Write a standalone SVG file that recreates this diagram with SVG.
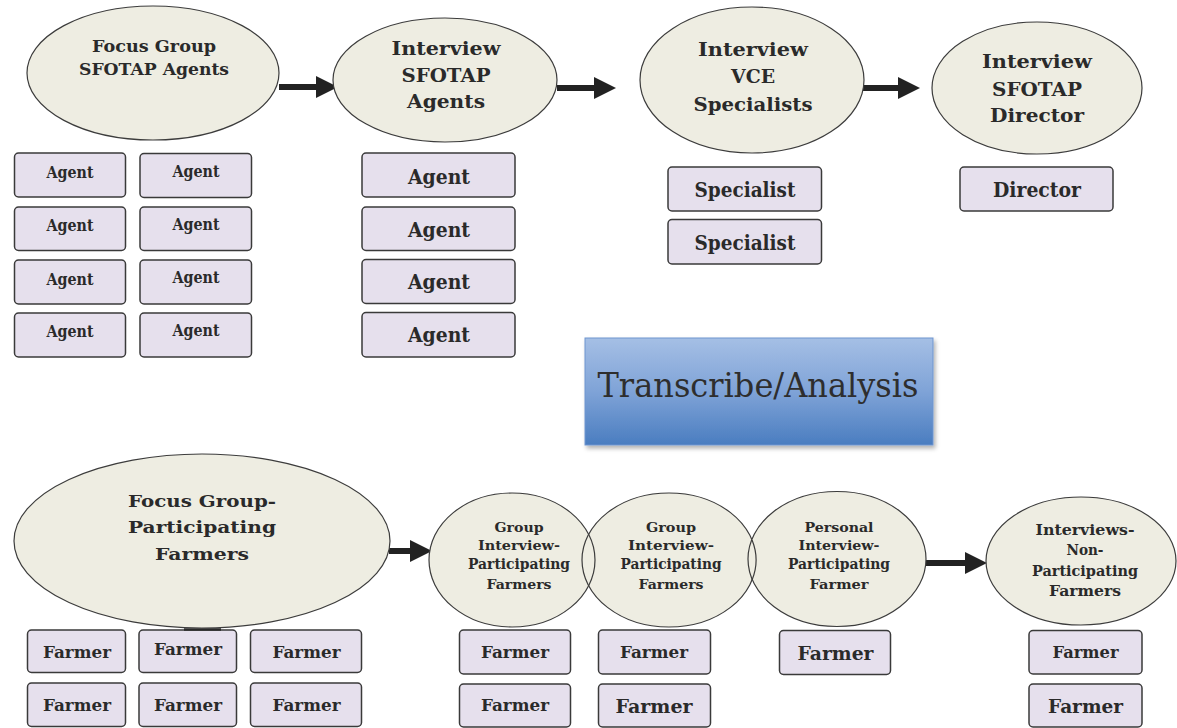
<svg xmlns="http://www.w3.org/2000/svg" width="1177" height="728" viewBox="0 0 1177 728">
  <style>
    .oval { fill: #eeede2; stroke: #3c3c3c; stroke-width: 1.2; }
    .ring { fill: none; stroke: #3c3c3c; stroke-width: 1.2; }
    .box { fill: #e6e0ed; stroke: #3a3a3a; stroke-width: 1.5; }
    .lbl { font-family: "DejaVu Serif", "Liberation Serif", serif; font-weight: bold; fill: #2a2a2a; text-anchor: middle; }
    .conn { stroke: #222; stroke-width: 6; fill: none; marker-end: url(#head); }
    .title { font-family: "DejaVu Serif", "Liberation Serif", serif; font-weight: normal; fill: #2e2e2e; text-anchor: middle; }
  </style>
  <defs>
    <marker id="head" markerUnits="userSpaceOnUse" markerWidth="22" markerHeight="22" refX="0" refY="11" orient="auto">
      <path d="M0,0 L22,11 L0,22 z" fill="#222"/>
    </marker>
    <linearGradient id="blue" x1="0" y1="0" x2="0" y2="1">
      <stop offset="0" stop-color="#a5bfe5"/>
      <stop offset="0.5" stop-color="#7fa3d7"/>
      <stop offset="1" stop-color="#4a7dc0"/>
    </linearGradient>
    <filter id="shadow" x="-5%" y="-10%" width="115%" height="130%">
      <feDropShadow dx="2" dy="3" stdDeviation="2" flood-color="#000" flood-opacity="0.3"/>
    </filter>
  </defs>

  <rect width="1177" height="728" fill="#ffffff"/>

  <!-- connectors -->
  <g id="connectors">
    <line class="conn" x1="279" y1="87" x2="316" y2="87"/>
    <line class="conn" x1="557" y1="88" x2="594" y2="88"/>
    <line class="conn" x1="863" y1="88" x2="898" y2="88"/>
    <line class="conn" x1="389" y1="551" x2="410" y2="551"/>
    <line class="conn" x1="926" y1="563" x2="965" y2="563"/>
  </g>

  <!-- top row: staff interviews -->
  <g id="focus-group-agents">
    <ellipse class="oval" cx="153" cy="73" rx="126" ry="67"/>
    <text class="lbl" x="154" y="52" font-size="17" textLength="124" lengthAdjust="spacingAndGlyphs">Focus Group</text>
    <text class="lbl" x="154" y="75" font-size="17" textLength="150" lengthAdjust="spacingAndGlyphs">SFOTAP Agents</text>
  </g>
  <g id="interview-agents">
    <ellipse class="oval" cx="445" cy="80" rx="112" ry="62"/>
    <text class="lbl" x="446" y="55" font-size="18" textLength="109" lengthAdjust="spacingAndGlyphs">Interview</text>
    <text class="lbl" x="446" y="82" font-size="18" textLength="89" lengthAdjust="spacingAndGlyphs">SFOTAP</text>
    <text class="lbl" x="446" y="108" font-size="18" textLength="78" lengthAdjust="spacingAndGlyphs">Agents</text>
  </g>
  <g id="interview-specialists">
    <ellipse class="oval" cx="752" cy="80" rx="112" ry="73"/>
    <text class="lbl" x="753" y="56" font-size="18" textLength="110" lengthAdjust="spacingAndGlyphs">Interview</text>
    <text class="lbl" x="753" y="83" font-size="18" textLength="44" lengthAdjust="spacingAndGlyphs">VCE</text>
    <text class="lbl" x="753" y="111" font-size="18" textLength="119" lengthAdjust="spacingAndGlyphs">Specialists</text>
  </g>
  <g id="interview-director">
    <ellipse class="oval" cx="1037" cy="88" rx="105" ry="66"/>
    <text class="lbl" x="1037" y="68" font-size="18" textLength="110" lengthAdjust="spacingAndGlyphs">Interview</text>
    <text class="lbl" x="1037" y="96" font-size="18" textLength="90" lengthAdjust="spacingAndGlyphs">SFOTAP</text>
    <text class="lbl" x="1037" y="122" font-size="18" textLength="94" lengthAdjust="spacingAndGlyphs">Director</text>
  </g>

  <!-- focus group agent boxes -->
  <g id="fg-agent-1"><rect class="box" x="14.5" y="153" width="111" height="44" rx="4"/><text class="lbl" x="70" y="178" font-size="16" textLength="47" lengthAdjust="spacingAndGlyphs">Agent</text></g>
  <g id="fg-agent-2"><rect class="box" x="140" y="153.5" width="111.5" height="44" rx="4"/><text class="lbl" x="196" y="177" font-size="16" textLength="47" lengthAdjust="spacingAndGlyphs">Agent</text></g>
  <g id="fg-agent-3"><rect class="box" x="14.5" y="207" width="111" height="43.5" rx="4"/><text class="lbl" x="70" y="231" font-size="16" textLength="47" lengthAdjust="spacingAndGlyphs">Agent</text></g>
  <g id="fg-agent-4"><rect class="box" x="140" y="207" width="111.5" height="43.5" rx="4"/><text class="lbl" x="196" y="230" font-size="16" textLength="47" lengthAdjust="spacingAndGlyphs">Agent</text></g>
  <g id="fg-agent-5"><rect class="box" x="14.5" y="260" width="111" height="44" rx="4"/><text class="lbl" x="70" y="285" font-size="16" textLength="47" lengthAdjust="spacingAndGlyphs">Agent</text></g>
  <g id="fg-agent-6"><rect class="box" x="140" y="260" width="111.5" height="44" rx="4"/><text class="lbl" x="196" y="283" font-size="16" textLength="47" lengthAdjust="spacingAndGlyphs">Agent</text></g>
  <g id="fg-agent-7"><rect class="box" x="14.5" y="313" width="111" height="44" rx="4"/><text class="lbl" x="70" y="337" font-size="16" textLength="47" lengthAdjust="spacingAndGlyphs">Agent</text></g>
  <g id="fg-agent-8"><rect class="box" x="140" y="313" width="111.5" height="44" rx="4"/><text class="lbl" x="196" y="336" font-size="16" textLength="47" lengthAdjust="spacingAndGlyphs">Agent</text></g>

  <!-- individual agent interview boxes -->
  <g id="int-agent-1"><rect class="box" x="362" y="153" width="153" height="44" rx="4"/><text class="lbl" x="439" y="184" font-size="20" textLength="62" lengthAdjust="spacingAndGlyphs">Agent</text></g>
  <g id="int-agent-2"><rect class="box" x="362" y="207" width="153" height="43.5" rx="4"/><text class="lbl" x="439" y="237" font-size="20" textLength="62" lengthAdjust="spacingAndGlyphs">Agent</text></g>
  <g id="int-agent-3"><rect class="box" x="362" y="259.5" width="153" height="44" rx="4"/><text class="lbl" x="439" y="289" font-size="20" textLength="62" lengthAdjust="spacingAndGlyphs">Agent</text></g>
  <g id="int-agent-4"><rect class="box" x="362" y="312.5" width="153" height="44.5" rx="4"/><text class="lbl" x="439" y="342" font-size="20" textLength="62" lengthAdjust="spacingAndGlyphs">Agent</text></g>

  <!-- specialists and director -->
  <g id="specialist-1"><rect class="box" x="668" y="167" width="153.5" height="44" rx="4"/><text class="lbl" x="745" y="197" font-size="20" textLength="101" lengthAdjust="spacingAndGlyphs">Specialist</text></g>
  <g id="specialist-2"><rect class="box" x="668" y="219.5" width="153.5" height="44.5" rx="4"/><text class="lbl" x="745" y="250" font-size="20" textLength="101" lengthAdjust="spacingAndGlyphs">Specialist</text></g>
  <g id="director"><rect class="box" x="960" y="167" width="153" height="44" rx="4"/><text class="lbl" x="1037" y="197" font-size="20" textLength="88" lengthAdjust="spacingAndGlyphs">Director</text></g>

  <!-- analysis step -->
  <g id="transcribe-analysis">
    <rect x="585" y="338" width="348" height="107" fill="url(#blue)" stroke="#6e95cf" stroke-width="1" filter="url(#shadow)"/>
    <text class="title" x="758" y="397" font-size="33" textLength="321" lengthAdjust="spacingAndGlyphs">Transcribe/Analysis</text>
  </g>

  <!-- bottom row: farmer interviews -->
  <g id="focus-group-farmers">
    <ellipse class="oval" cx="202" cy="541" rx="188" ry="87"/>
    <text class="lbl" x="202" y="507" font-size="17.5" textLength="148" lengthAdjust="spacingAndGlyphs">Focus Group-</text>
    <text class="lbl" x="202" y="533" font-size="17.5" textLength="148" lengthAdjust="spacingAndGlyphs">Participating</text>
    <text class="lbl" x="202" y="560" font-size="17.5" textLength="94" lengthAdjust="spacingAndGlyphs">Farmers</text>
  </g>
  <g id="group-interview-1">
    <ellipse class="oval" cx="512" cy="560" rx="83" ry="67"/>
    <text class="lbl" x="519" y="532" font-size="13.5" textLength="49" lengthAdjust="spacingAndGlyphs">Group</text>
    <text class="lbl" x="519" y="550" font-size="13.5" textLength="82" lengthAdjust="spacingAndGlyphs">Interview-</text>
    <text class="lbl" x="519" y="569" font-size="14.5" textLength="102" lengthAdjust="spacingAndGlyphs">Participating</text>
    <text class="lbl" x="519" y="589" font-size="13.5" textLength="65" lengthAdjust="spacingAndGlyphs">Farmers</text>
  </g>
  <g id="group-interview-2">
    <ellipse class="oval" cx="669" cy="560" rx="87" ry="67"/>
    <text class="lbl" x="671" y="532" font-size="13.5" textLength="50" lengthAdjust="spacingAndGlyphs">Group</text>
    <text class="lbl" x="671" y="550" font-size="13.5" textLength="86" lengthAdjust="spacingAndGlyphs">Interview-</text>
    <text class="lbl" x="671" y="569" font-size="14.5" textLength="101" lengthAdjust="spacingAndGlyphs">Participating</text>
    <text class="lbl" x="671" y="589" font-size="13.5" textLength="65" lengthAdjust="spacingAndGlyphs">Farmers</text>
  </g>
  <g id="personal-interview">
    <ellipse class="oval" cx="837" cy="559" rx="89" ry="67.5"/>
    <text class="lbl" x="839" y="532" font-size="13.5" textLength="69" lengthAdjust="spacingAndGlyphs">Personal</text>
    <text class="lbl" x="839" y="550" font-size="13.5" textLength="81" lengthAdjust="spacingAndGlyphs">Interview-</text>
    <text class="lbl" x="839" y="569" font-size="14.5" textLength="102" lengthAdjust="spacingAndGlyphs">Participating</text>
    <text class="lbl" x="839" y="589" font-size="13.5" textLength="59" lengthAdjust="spacingAndGlyphs">Farmer</text>
  </g>
  <!-- right-hand rims of the first two circles, redrawn where the next circle covers them -->
  <g id="overlap-outlines">
    <path class="ring" d="M588.65,534.3 A83,67 0 0 1 588.65,585.7"/>
    <path class="ring" d="M752.05,540 A87,67 0 0 1 752.05,580"/>
  </g>
  <g id="non-participating">
    <ellipse class="oval" cx="1081" cy="561" rx="95" ry="64"/>
    <text class="lbl" x="1085" y="535" font-size="15" textLength="99" lengthAdjust="spacingAndGlyphs">Interviews-</text>
    <text class="lbl" x="1085" y="555" font-size="15" textLength="37" lengthAdjust="spacingAndGlyphs">Non-</text>
    <text class="lbl" x="1085" y="576" font-size="15.5" textLength="106" lengthAdjust="spacingAndGlyphs">Participating</text>
    <text class="lbl" x="1085" y="596" font-size="15" textLength="72" lengthAdjust="spacingAndGlyphs">Farmers</text>
  </g>

  <!-- focus group farmer boxes -->
  <g id="fg-farmer-1"><rect class="box" x="27.5" y="630" width="98" height="42.5" rx="4"/><text class="lbl" x="77" y="658" font-size="17.5" textLength="68" lengthAdjust="spacingAndGlyphs">Farmer</text></g>
  <g id="fg-farmer-2"><rect class="box" x="139" y="630" width="97.5" height="42.5" rx="4"/><line x1="184" y1="629.5" x2="221" y2="629.5" stroke="#2a2a2a" stroke-width="2.5"/><text class="lbl" x="188" y="655" font-size="17.5" textLength="68" lengthAdjust="spacingAndGlyphs">Farmer</text></g>
  <g id="fg-farmer-3"><rect class="box" x="250.5" y="630" width="111" height="42.5" rx="4"/><text class="lbl" x="306.5" y="658" font-size="17.5" textLength="68" lengthAdjust="spacingAndGlyphs">Farmer</text></g>
  <g id="fg-farmer-4"><rect class="box" x="27.5" y="683" width="98" height="43.5" rx="4"/><text class="lbl" x="77" y="711" font-size="17.5" textLength="68" lengthAdjust="spacingAndGlyphs">Farmer</text></g>
  <g id="fg-farmer-5"><rect class="box" x="139" y="683" width="97.5" height="43.5" rx="4"/><text class="lbl" x="188" y="711" font-size="17.5" textLength="68" lengthAdjust="spacingAndGlyphs">Farmer</text></g>
  <g id="fg-farmer-6"><rect class="box" x="250.5" y="683" width="111" height="43.5" rx="4"/><text class="lbl" x="306.5" y="711" font-size="17.5" textLength="68" lengthAdjust="spacingAndGlyphs">Farmer</text></g>

  <!-- group interview farmer boxes -->
  <g id="gi1-farmer-1"><rect class="box" x="459.5" y="630" width="111" height="44" rx="4"/><text class="lbl" x="515" y="658" font-size="17.5" textLength="68" lengthAdjust="spacingAndGlyphs">Farmer</text></g>
  <g id="gi1-farmer-2"><rect class="box" x="459.5" y="684" width="111" height="43" rx="4"/><text class="lbl" x="515" y="711" font-size="17.5" textLength="68" lengthAdjust="spacingAndGlyphs">Farmer</text></g>
  <g id="gi2-farmer-1"><rect class="box" x="598.5" y="630" width="112" height="44" rx="4"/><text class="lbl" x="654" y="658" font-size="17.5" textLength="68" lengthAdjust="spacingAndGlyphs">Farmer</text></g>
  <g id="gi2-farmer-2"><rect class="box" x="598.5" y="684" width="112" height="43" rx="4"/><text class="lbl" x="654" y="713" font-size="19" textLength="77" lengthAdjust="spacingAndGlyphs">Farmer</text></g>
  <g id="pi-farmer"><rect class="box" x="779.5" y="630.5" width="111" height="44" rx="4"/><text class="lbl" x="835.5" y="660" font-size="19" textLength="76" lengthAdjust="spacingAndGlyphs">Farmer</text></g>
  <g id="np-farmer-1"><rect class="box" x="1029" y="630.5" width="113" height="43.5" rx="4"/><text class="lbl" x="1085.5" y="658" font-size="17.5" textLength="66" lengthAdjust="spacingAndGlyphs">Farmer</text></g>
  <g id="np-farmer-2"><rect class="box" x="1029" y="684" width="113" height="43" rx="4"/><text class="lbl" x="1085.5" y="713" font-size="19" textLength="75" lengthAdjust="spacingAndGlyphs">Farmer</text></g>
</svg>
